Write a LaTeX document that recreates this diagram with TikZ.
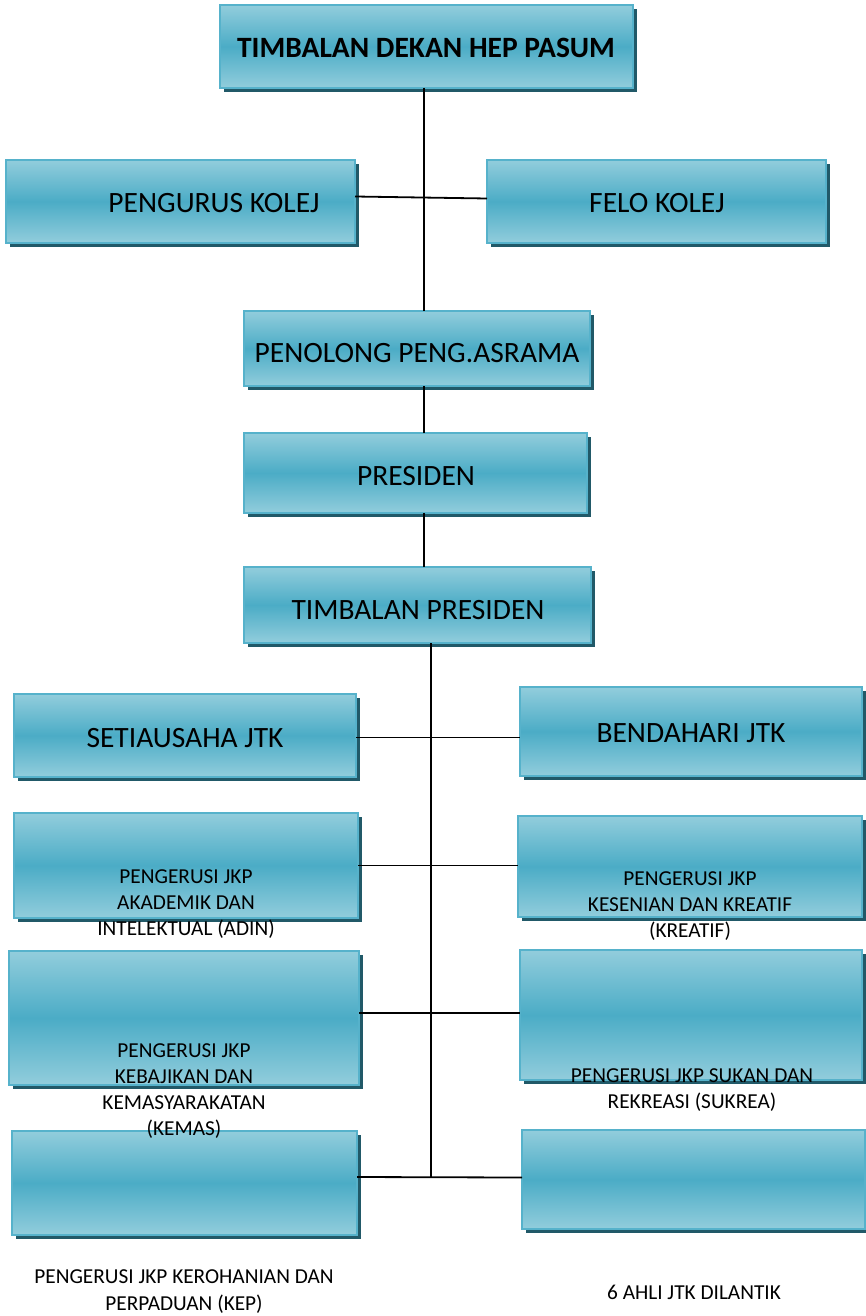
\documentclass[tikz,border=0pt]{standalone}
\usepackage{fontspec}
\setmainfont{Carlito}
\usetikzlibrary{shadows}
\definecolor{boxlight}{RGB}{146,205,220}
\definecolor{boxmid}{RGB}{75,172,198}
\definecolor{boxedge}{RGB}{86,178,203}
\definecolor{boxshade}{RGB}{33,89,104}
\tikzset{
  box/.style={rectangle, draw=boxedge, line width=1.5pt, inner sep=0pt, outer sep=0pt,
    top color=boxlight, bottom color=boxlight, middle color=boxmid,
    drop shadow={shadow xshift=4pt, shadow yshift=-4pt, fill=boxshade, opacity=1}},
  big/.style={font=\fontsize{29.5}{35}\selectfont, inner sep=0pt},
  small/.style={font=\fontsize{21.3}{26}\selectfont, align=center, inner sep=0pt},
  link/.style={line width=1.8pt, black}
}
\begin{document}
\begin{tikzpicture}[x=1pt, y=-1pt]
      \useasboundingbox (0,0) rectangle (865,1316);
      \node[box, minimum width=413, minimum height=83] (dekan) at (426.5,46.5) {};
      \node[box, minimum width=349, minimum height=83] (pengurus) at (180.5,201.5) {};
      \node[box, minimum width=339, minimum height=83] (felo) at (656.5,201.5) {};
      \node[box, minimum width=346, minimum height=75] (penolong) at (417,348.5) {};
      \node[box, minimum width=343, minimum height=80] (presiden) at (415.5,473) {};
      \node[box, minimum width=347, minimum height=76] (timbalan) at (417.5,605) {};
      \node[box, minimum width=342, minimum height=83] (setia) at (185,735.5) {};
      \node[box, minimum width=342, minimum height=89] (bendahari) at (691,731.5) {};
      \node[box, minimum width=344, minimum height=105] (adin) at (186,865.5) {};
      \node[box, minimum width=344, minimum height=101] (kreatif) at (690,866.5) {};
      \node[box, minimum width=350, minimum height=134] (kemas) at (184,1018) {};
      \node[box, minimum width=342, minimum height=130] (sukrea) at (691,1015) {};
      \node[box, minimum width=345, minimum height=104] (kep) at (184.5,1183) {};
      \node[box, minimum width=343, minimum height=99] (ahli) at (693.5,1179.5) {};
      \coordinate (spine) at (424,0);
      \coordinate (trunk) at (431,1177);
      \draw[link] (spine |- dekan.south) -- (spine |- penolong.north);
      \draw[link] ([yshift=5pt]pengurus.east) -- ([yshift=3pt]felo.west);
      \draw[link] (spine |- penolong.south) -- (spine |- presiden.north);
      \draw[link] (spine |- presiden.south) -- (spine |- timbalan.north);
      \draw[link] (trunk |- timbalan.south) -- (trunk);
      \draw[link] ([yshift=-2pt]setia.east) -- ([yshift=-2pt]setia.east -| bendahari.west);
      \draw[link] (adin.east) -- (adin.east -| kreatif.west);
      \draw[link] ([yshift=5pt]kemas.east) -- ([yshift=5pt]kemas.east -| sukrea.west);
      \draw[link] ([yshift=6pt]kep.east) -- ([yshift=2pt]ahli.west);
      \node[big, font=\fontsize{29.5}{35}\selectfont\bfseries] (t-dekan) at (426,48) {TIMBALAN DEKAN HEP PASUM};
      \node[big] (t-pengurus) at (214,203) {PENGURUS KOLEJ};
      \node[big] (t-felo) at (657,203) {FELO KOLEJ};
      \node[big] (t-penolong) at (417,353) {PENOLONG PENG.ASRAMA};
      \node[big] (t-presiden) at (416,476) {PRESIDEN};
      \node[big] (t-timbalan) at (418,610) {TIMBALAN PRESIDEN};
      \node[big] (t-setia) at (185,738) {SETIAUSAHA JTK};
      \node[big] (t-bendahari) at (691,733) {BENDAHARI JTK};
      \node[small] (t-adin) at (186,904) {PENGERUSI JKP\\AKADEMIK DAN\\INTELEKTUAL (ADIN)};
      \node[small] (t-kreatif) at (690,906) {PENGERUSI JKP\\KESENIAN DAN KREATIF\\(KREATIF)};
      \node[small] (t-kemas) at (184,1091) {PENGERUSI JKP\\KEBAJIKAN DAN\\KEMASYARAKATAN\\(KEMAS)};
      \node[small] (t-sukrea) at (692,1090) {PENGERUSI JKP SUKAN DAN\\REKREASI (SUKREA)};
      \node[small, font=\fontsize{21.3}{27}\selectfont] (t-kep) at (184,1292) {PENGERUSI JKP KEROHANIAN DAN\\PERPADUAN (KEP)};
      \node[small] (t-ahli) at (694,1292) {6 AHLI JTK DILANTIK};
\end{tikzpicture}
\end{document}
